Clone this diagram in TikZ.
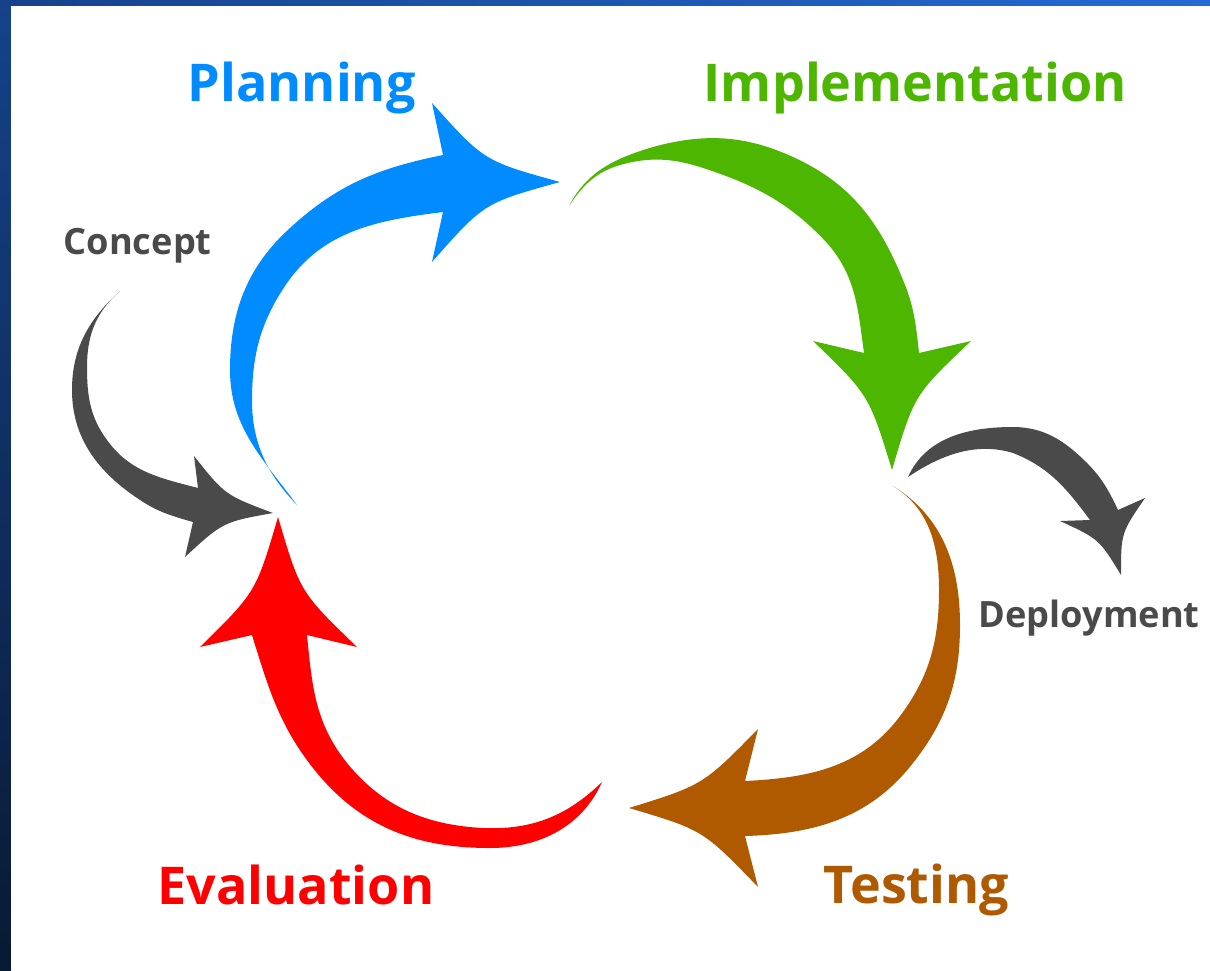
\documentclass[tikz,border=0pt]{standalone}
\usepackage{fontspec}
\setmainfont{Open Sans}
\definecolor{planblue}{RGB}{0,140,255}
\definecolor{implgreen}{RGB}{76,182,0}
\definecolor{testbrown}{RGB}{175,90,0}
\definecolor{evalred}{RGB}{255,0,0}
\definecolor{sidegray}{RGB}{74,74,74}
\definecolor{frametop}{RGB}{22,66,138}
\definecolor{frameright}{RGB}{36,106,212}
\definecolor{framebottom}{RGB}{8,26,52}
\begin{document}
\begin{tikzpicture}[
		x=0.01cm,
		y=-0.01cm,
		stage/.style={
				anchor=base west,
				inner sep=0pt,
				font=\fontsize{14.8}{17}\selectfont\bfseries
			},
		side/.style={
				anchor=base west,
				inner sep=0pt,
				text=sidegray,
				font=\fontsize{10.3}{12}\selectfont\bfseries
			}
	]
	\useasboundingbox (0,0) rectangle (1210,970);
	% frame
	\shade[top color=frametop, bottom color=framebottom] (0,0) rectangle (11,970);
	\shade[left color=frametop, right color=frameright] (0,0) rectangle (1210,6);
	\fill[white] (11,6) rectangle (1210,970);

	% Planning
	\fill[planblue] (297,505) .. controls (263,459) and (230,427) .. (230,370)
		.. controls (230,312) and (247,267) .. (290,228)
		.. controls (338,184) and (379,168) .. (443,155)
		-- (432,103) .. controls (484,161) .. (560,182) .. controls (484,203) .. (432,262) -- (443,212)
		.. controls (379,220) and (324,230) .. (287,283)
		.. controls (261,321) and (252,354) .. (252,400)
		.. controls (252,443) and (267,474) .. (297,505) -- cycle;

	% Implementation
	\fill[implgreen] (569,206) .. controls (587,171) and (616,158) .. (653,147)
		.. controls (704,133) and (745,135) .. (793,157)
		.. controls (850,183) and (879,221) .. (903,280)
		.. controls (914,306) and (916,325) .. (919,353)
		-- (971,341) .. controls (914,395) .. (892,470) .. controls (869,395) .. (813,341) -- (864,353)
		.. controls (858,309) and (856,276) .. (827,243)
		.. controls (789,202) and (753,184) .. (700,167)
		.. controls (671,158) and (649,157) .. (620,165)
		.. controls (596,172) and (583,185) .. (569,206) -- cycle;

	% Testing
	\fill[testbrown] (893,486) .. controls (943,517) and (960,566) .. (960,625)
		.. controls (960,680) and (947,720) .. (913,763)
		.. controls (870,818) and (815,834) .. (745,836)
		-- (758,887) .. controls (703,830) .. (629,808) .. controls (703,785) .. (758,729) -- (745,781)
		.. controls (807,778) and (859,768) .. (897,720)
		.. controls (929,679) and (939,642) .. (939,590)
		.. controls (939,547) and (930,509) .. (893,486) -- cycle;

	% Evaluation
	\fill[evalred] (602,782) .. controls (582,827) and (539,848) .. (490,848)
		.. controls (418,848) and (363,828) .. (317,773)
		.. controls (280,728) and (269,690) .. (252,635)
		-- (200,647) .. controls (256,592) .. (278,517) .. controls (300,592) .. (357,647) -- (307,635)
		.. controls (312,686) and (315,723) .. (347,763)
		.. controls (383,807) and (426,825) .. (483,828)
		.. controls (532,830) and (567,816) .. (602,782) -- cycle;

	% Concept
	\fill[sidegray] (120,291) .. controls (89,319) and (72,348) .. (72,390)
		.. controls (72,439) and (99,473) .. (140,500)
		.. controls (158,512) and (172,516) .. (193,522)
		-- (185,557) .. controls (223,522) .. (273,513) .. controls (225,495) .. (194,456) -- (198,488)
		.. controls (160,478) and (130,472) .. (107,440)
		.. controls (90,417) and (87,396) .. (87,367)
		.. controls (87,335) and (96,312) .. (120,291) -- cycle;

	% Deployment
	\fill[sidegray] (908,477) .. controls (926,437) and (969,427) .. (1013,427)
		.. controls (1044,427) and (1065,441) .. (1087,463)
		.. controls (1102,478) and (1109,491) .. (1118,510)
		-- (1145,498) .. controls (1121,533) .. (1121,575) .. controls (1099,539) .. (1060,521) -- (1090,520)
		.. controls (1067,489) and (1049,467) .. (1013,453)
		.. controls (977,442) and (942,454) .. (908,477) -- cycle;

	% labels
	\node[stage, text=planblue] (planning) at (187,102) {Planning};
	\node[stage, text=implgreen] (implementation) at (703,102) {Implementation};
	\node[stage, text=testbrown] (testing) at (823,903) {Testing};
	\node[stage, text=evalred] (evaluation) at (157,904) {Evaluation};
	\node[side] (concept) at (63,254) {Concept};
	\node[side] (deployment) at (978,627) {Deployment};
\end{tikzpicture}
\end{document}
